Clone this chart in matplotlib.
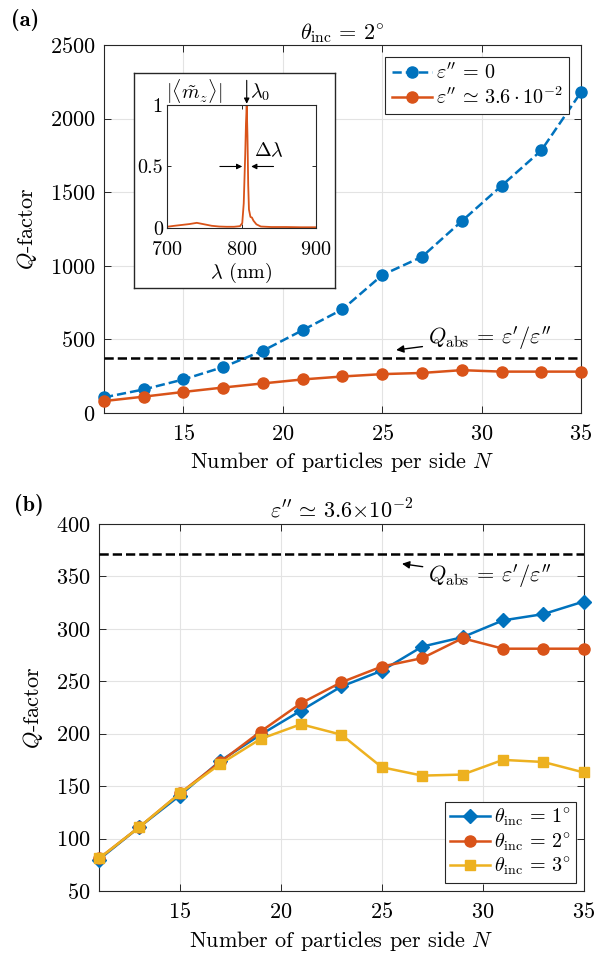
import matplotlib
matplotlib.use('Agg')
import matplotlib.pyplot as plt

plt.rcParams['font.family'] = 'cmr10'
plt.rcParams['mathtext.fontset'] = 'cm'
plt.rcParams['axes.unicode_minus'] = False
plt.rcParams['axes.formatter.use_mathtext'] = True

# data
n_side = [11, 13, 15, 17, 19, 21, 23, 25, 27, 29, 31, 33, 35]
q_lossless = [106, 160, 228, 312, 423, 563, 704, 937, 1061, 1303, 1543, 1783, 2179]
q_lossy = [81, 111, 143, 173, 201, 228, 248, 264, 272, 291, 281, 281, 281]
q_abs = 371

q_theta1 = [80, 111, 141, 174, 199, 222, 245, 260, 283, 292, 308, 314, 326]
q_theta2 = [81, 111, 143, 173, 202, 229, 249, 264, 272, 291, 281, 281, 281]
q_theta3 = [81, 111, 143, 171, 195, 209, 199, 168, 160, 161, 175, 173, 163]

# inset spectrum
wl = [700, 710, 720, 730, 740, 750, 760, 770, 780, 790, 798, 801, 803, 805, 806, 807,
      808, 809, 810, 812, 814, 816, 820, 826, 840, 860, 880, 900]
mz = [0.010, 0.018, 0.025, 0.032, 0.042, 0.030, 0.018, 0.012, 0.010, 0.010, 0.015, 0.04,
      0.20, 0.60, 0.85, 1.0, 0.75, 0.35, 0.15, 0.09, 0.085, 0.06, 0.03, 0.012, 0.008,
      0.008, 0.006, 0.006]

blue = '#0072BD'
orange = '#D95319'
yellow = '#EDB120'
FS = 16
FS_LEG = 14.5
FS_IN = 14.5
Q_TXT = r"$Q_{\rm abs}\,=\,\varepsilon'/\varepsilon''$"


def style_axes(ax, fs):
    ax.tick_params(direction='in', top=True, right=True, length=5, width=0.7,
                   colors='#262626', labelsize=fs, labelcolor='k')
    for s in ax.spines.values():
        s.set_color('#262626')
        s.set_linewidth(0.8)


fig = plt.figure(figsize=(6.16, 9.56), dpi=100)

# ---------- (a) ----------
ax1 = fig.add_axes([0.1688, 0.568, 0.7744, 0.385])
ax1.plot(n_side, q_lossless, '--o', color=blue, lw=1.8, ms=8, clip_on=False,
         zorder=4, label=r"$\varepsilon''\,=\,0$")
ax1.plot(n_side, q_lossy, '-o', color=orange, lw=1.8, ms=8, clip_on=False,
         zorder=4, label=r"$\varepsilon''\,\simeq\,3.6\cdot10^{-2}$")
ax1.axhline(q_abs, color='k', ls='--', lw=1.8, zorder=3)
ax1.set_xlim(11, 35)
ax1.set_ylim(0, 2500)
ax1.set_xticks([15, 20, 25, 30, 35])
ax1.set_yticks(range(0, 2501, 500))
ax1.grid(True, color='#e3e3e3', lw=0.8)
ax1.set_axisbelow(True)
style_axes(ax1, FS)
ax1.tick_params(axis='x', pad=8)
ax1.tick_params(axis='y', pad=6)
ax1.set_xlabel(r'Number of particles per side $N$', fontsize=FS, labelpad=4)
ax1.set_ylabel(r'$Q$-factor', fontsize=FS)
ax1.yaxis.set_label_coords(-0.136, 0.5)
ax1.set_title(r'$\theta_{\rm inc}\,=\,2^{\circ}$', fontsize=FS, pad=4)
leg = ax1.legend(loc='upper right', fontsize=FS_LEG, fancybox=False, framealpha=1,
                 edgecolor='#262626', borderaxespad=0.6, handlelength=2.0,
                 handletextpad=0.2, borderpad=0.3, labelspacing=0.15)
leg.get_frame().set_linewidth(0.8)
ax1.annotate(Q_TXT, xy=(25.7, 428), xytext=(27.3, 510), fontsize=FS,
             va='center', ha='left',
             arrowprops=dict(arrowstyle='-|>', color='k', lw=1,
                             mutation_scale=11, shrinkA=2, shrinkB=0))
fig.text(0.018, 0.979, '(a)', family='cmb10', fontsize=16, va='center')

# inset
box = fig.add_axes([0.2175, 0.6987, 0.3263, 0.2249])
box.set_xticks([])
box.set_yticks([])
box.set_facecolor('white')
for s in box.spines.values():
    s.set_color('#262626')
    s.set_linewidth(1.0)
box.set_zorder(5)

axi = fig.add_axes([0.2711, 0.7615, 0.2419, 0.1287])
axi.set_zorder(6)
axi.plot(wl, mz, color=orange, lw=1.3)
axi.set_xlim(700, 900)
axi.set_ylim(0, 1)
axi.set_xticks([700, 800, 900])
axi.set_yticks([0, 0.5, 1])
axi.set_yticklabels(['0', '0.5', '1'])
style_axes(axi, FS_IN)
axi.tick_params(length=3)
axi.tick_params(axis='x', pad=9)
axi.tick_params(axis='y', pad=3)
axi.set_xlabel(r'$\lambda$ (nm)', fontsize=FS_IN, labelpad=2)
axi.text(-0.01, 1.11, r'$|\langle\tilde{m}_z\rangle|$', transform=axi.transAxes,
         fontsize=FS_IN, ha='left', va='center')
axi.annotate('', xy=(807, 1.01), xytext=(807, 1.2), annotation_clip=False,
             arrowprops=dict(arrowstyle='-|>', color='k', lw=0.8,
                             mutation_scale=8, shrinkA=0, shrinkB=0))
axi.text(811, 1.1, r'$\lambda_0$', fontsize=FS_IN, ha='left', va='center')
axi.annotate('', xy=(801, 0.5), xytext=(771, 0.5),
             arrowprops=dict(arrowstyle='-|>', color='k', lw=0.8,
                             mutation_scale=8, shrinkA=0, shrinkB=0))
axi.annotate('', xy=(813, 0.5), xytext=(843, 0.5),
             arrowprops=dict(arrowstyle='-|>', color='k', lw=0.8,
                             mutation_scale=8, shrinkA=0, shrinkB=0))
axi.text(817, 0.63, r'$\Delta\lambda$', fontsize=FS_IN, ha='left', va='center')

# ---------- (b) ----------
ax2 = fig.add_axes([0.1607, 0.068, 0.787, 0.384])
ax2.plot(n_side, q_theta1, '-D', color=blue, lw=1.8, ms=7, clip_on=False,
         zorder=4, label=r'$\theta_{\rm inc}\,=\,1^{\circ}$')
ax2.plot(n_side, q_theta2, '-o', color=orange, lw=1.8, ms=8, clip_on=False,
         zorder=4, label=r'$\theta_{\rm inc}\,=\,2^{\circ}$')
ax2.plot(n_side, q_theta3, '-s', color=yellow, lw=1.8, ms=7.5, clip_on=False,
         zorder=4, label=r'$\theta_{\rm inc}\,=\,3^{\circ}$')
ax2.axhline(q_abs, color='k', ls='--', lw=1.8, zorder=3)
ax2.set_xlim(11, 35)
ax2.set_ylim(50, 400)
ax2.set_xticks([15, 20, 25, 30, 35])
ax2.set_yticks(range(50, 401, 50))
ax2.grid(True, color='#e3e3e3', lw=0.8)
ax2.set_axisbelow(True)
style_axes(ax2, FS)
ax2.tick_params(axis='x', pad=8)
ax2.tick_params(axis='y', pad=6)
ax2.set_xlabel(r'Number of particles per side $N$', fontsize=FS, labelpad=5)
ax2.set_ylabel(r'$Q$-factor', fontsize=FS)
ax2.yaxis.set_label_coords(-0.111, 0.5)
ax2.set_title(r"$\varepsilon''\,\simeq\,3.6{\times}10^{-2}$", fontsize=FS, pad=4)
leg2 = ax2.legend(loc='lower right', fontsize=FS_LEG, fancybox=False, framealpha=1,
                  edgecolor='#262626', borderaxespad=0.4, handlelength=2.0,
                  handletextpad=0.2, borderpad=0.25, labelspacing=0.1)
leg2.get_frame().set_linewidth(0.8)
ax2.annotate(Q_TXT, xy=(26.0, 362), xytext=(27.3, 350), fontsize=FS,
             va='center', ha='left',
             arrowprops=dict(arrowstyle='-|>', color='k', lw=1,
                             mutation_scale=11, shrinkA=2, shrinkB=0))
fig.text(0.022, 0.472, '(b)', family='cmb10', fontsize=16, va='center')

fig.savefig('out.png', dpi=100)
